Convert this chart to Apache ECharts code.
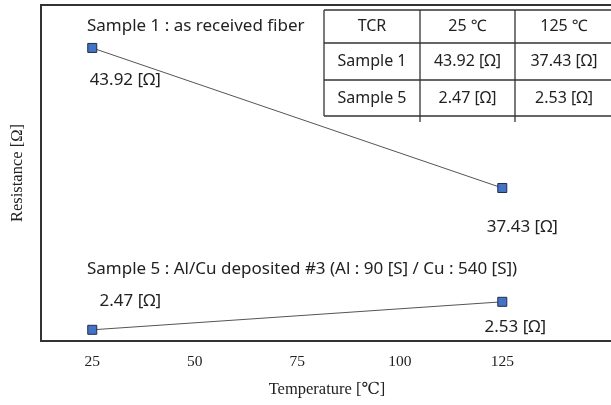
<!DOCTYPE html>
<html>
<head>
<meta charset="utf-8">
<script src="https://cdn.jsdelivr.net/npm/echarts@6/dist/echarts.min.js"></script>
<style>
  html, body { margin: 0; padding: 0; background: #fff; }
  #chart { width: 611px; height: 405px; }
</style>
</head>
<body>
<div id="chart"></div>
<script>
// temperatures [℃]
const temps = [25, 125]
const tickLabels = [25, 50, 75, 100, 125]
// resistance [Ω]
const sample1 = [43.92, 37.43]
const sample5 = [2.47, 2.53]
const sample1Name = 'Sample 1 : as received fiber'
const sample5Name = 'Sample 5 : Al/Cu deposited #3 (Al : 90 [S] / Cu : 540 [S])'
const tableHeader = ['TCR', '25 ℃', '125 ℃']
const tableRowNames = ['Sample 1', 'Sample 5']

const font = '"Noto Sans", "Open Sans", sans-serif'
const serif = '"Liberation Serif", "DejaVu Serif", serif'
const ohm = v => v.toFixed(2) + ' [Ω]'

// label offsets from each point (pixels)
const offs1 = [[33, 32], [20, 39]]
const offs5 = [[38, -29], [13, 25]]

function pts(vals, offs) {
  return vals.map((v, i) => ({
    value: [temps[i], v],
    label: { offset: offs[i] }
  }))
}

// table drawn with graphic elements
const colX = [324, 420, 515, 613]
const rowY = [10, 43, 80, 116]
const tableRows = [tableHeader].concat(tableRowNames.map((n, i) =>
  [n, ohm(i === 0 ? sample1[0] : sample5[0]), ohm(i === 0 ? sample1[1] : sample5[1])]))
const table = []
rowY.forEach(y => table.push({
  type: 'line', shape: { x1: colX[0], y1: y, x2: colX[3], y2: y },
  style: { stroke: '#333', lineWidth: 1.3 }
}))
colX.forEach((x, i) => table.push({
  type: 'line', shape: { x1: x, y1: rowY[0], x2: x, y2: rowY[3] + (i === 1 || i === 2 ? 6 : 0) },
  style: { stroke: '#333', lineWidth: 1.3 }
}))
tableRows.forEach((row, r) => row.forEach((t, c) => table.push({
  type: 'text',
  x: (colX[c] + colX[c + 1]) / 2,
  y: (rowY[r] + rowY[r + 1]) / 2,
  style: { text: t, fill: '#222', font: '16px ' + font, align: 'center', verticalAlign: 'middle' }
})))

const chart = echarts.init(document.getElementById('chart'))
chart.setOption({
  animation: false,
  grid: {
    left: 41, top: 5, width: 572, height: 336,
    outerBoundsMode: 'none',
    show: true, borderColor: '#333', borderWidth: 2, backgroundColor: '#fff'
  },
  xAxis: {
    type: 'value', min: 12.5, max: 152,
    name: 'Temperature [℃]', nameLocation: 'middle', nameGap: 40,
    nameTextStyle: { fontFamily: serif, fontSize: 16.5, color: '#222' },
    axisLine: { show: false }, axisTick: { show: false }, splitLine: { show: false },
    axisLabel: {
      customValues: tickLabels, margin: 13,
      fontFamily: serif, fontSize: 15.5, color: '#222'
    }
  },
  yAxis: [{
    type: 'value', min: 30.34, max: 45.91,
    name: 'Resistance [Ω]', nameLocation: 'middle', nameGap: 15,
    nameTextStyle: { fontFamily: serif, fontSize: 16.5, color: '#222' },
    axisLine: { show: false }, axisTick: { show: false },
    axisLabel: { show: false }, splitLine: { show: false }
  }, {
    type: 'value', min: 2.446, max: 3.166,
    axisLine: { show: false }, axisTick: { show: false },
    axisLabel: { show: false }, splitLine: { show: false }
  }],
  series: [sample1, sample5].map((vals, k) => ({
    type: 'line',
    name: k === 0 ? sample1Name : sample5Name,
    yAxisIndex: k,
    data: pts(vals, k === 0 ? offs1 : offs5),
    symbol: 'rect', symbolSize: 9,
    lineStyle: { color: '#555', width: 1 },
    itemStyle: { color: '#4472C4', borderColor: '#1e2d4f', borderWidth: 1 },
    label: {
      show: true, position: 'inside', color: '#222',
      fontFamily: font, fontSize: 17,
      formatter: p => ohm(p.value[1])
    }
  })),
  graphic: [
    { type: 'text', x: 87, y: 26, style: { text: sample1Name, fill: '#222', font: '17px ' + font, verticalAlign: 'middle' } },
    { type: 'text', x: 87, y: 269, style: { text: sample5Name, fill: '#222', font: '17px ' + font, verticalAlign: 'middle' } }
  ].concat(table)
})
</script>
</body>
</html>
